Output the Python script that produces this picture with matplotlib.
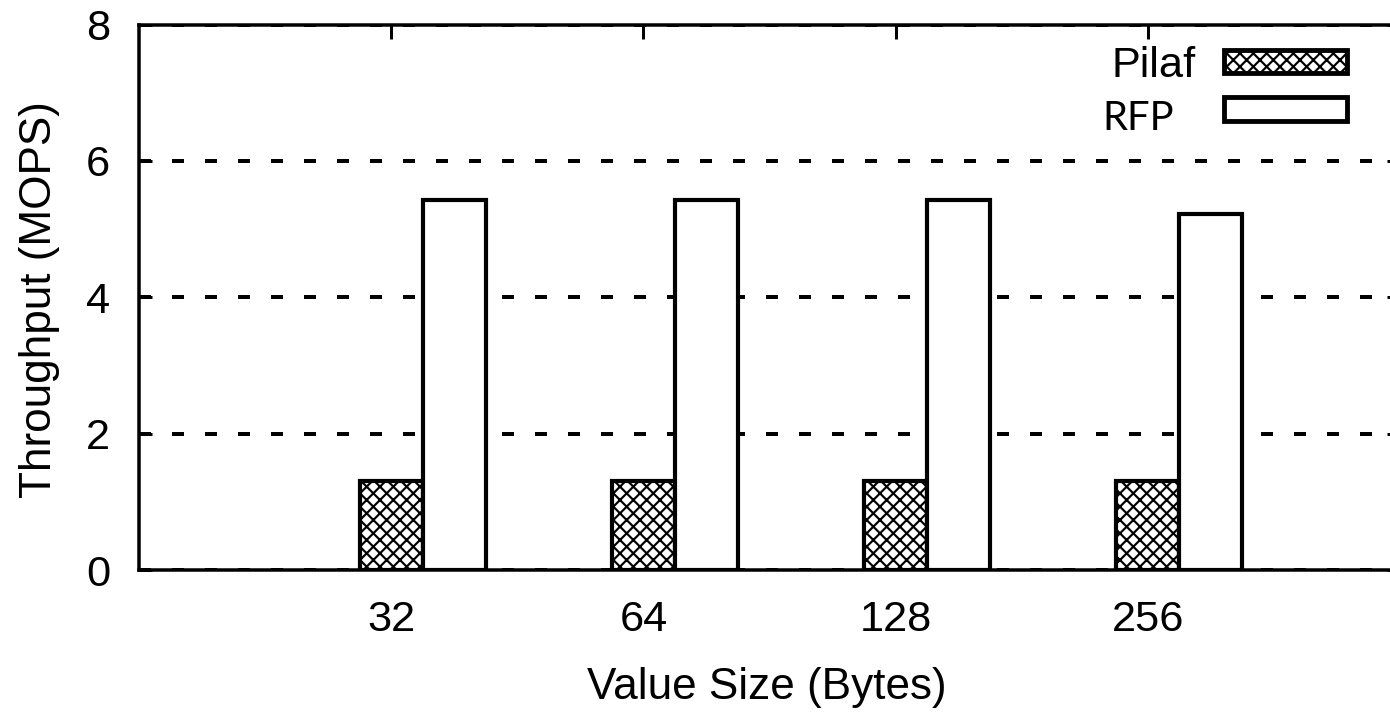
import matplotlib
matplotlib.use("Agg")
import matplotlib.pyplot as plt
from matplotlib.patches import Rectangle
import numpy as np

# Throughput per value size
value_sizes = ["32", "64", "128", "256"]
pilaf = [1.3, 1.3, 1.3, 1.3]
rfp = [5.42, 5.42, 5.42, 5.22]
series_names = ["Pilaf", "RFP"]
y_ticks = [0, 2, 4, 6, 8]

DPI = 120
W, H = 1390, 713
plt.rcParams["font.family"] = ["Liberation Sans", "DejaVu Sans"]
plt.rcParams["hatch.linewidth"] = 1.3
plt.rcParams["hatch.color"] = "black"

fig = plt.figure(figsize=(W / DPI, H / DPI), dpi=DPI)
# axes box in pixels: left 139, right 1400 (right side runs past the canvas), top 24.5, bottom 570
ax = fig.add_axes([139 / W, (H - 570) / H, 1261 / W, 545.5 / H])

x = np.arange(1, len(value_sizes) + 1)
bw = 0.25
edge_lw = 2.5
hatch_pat = "xxx"

ax.bar(x, pilaf, width=bw, facecolor="white", edgecolor="black",
       linewidth=edge_lw, hatch=hatch_pat, zorder=3)
ax.bar(x + bw, rfp, width=bw, facecolor="white", edgecolor="black",
       linewidth=edge_lw, zorder=3)

ax.set_xlim(0, 5)
ax.set_ylim(0, 8)
ax.set_yticks(y_ticks)
ax.set_xticks(x)
ax.set_xticklabels(value_sizes)

ax.set_axisbelow(True)
ax.yaxis.grid(True, color="black", linewidth=2.4, linestyle=(0, (3, 5.25)))
ax.xaxis.grid(False)

for s in ax.spines.values():
    s.set_linewidth(2.1)
    s.set_color("black")

ax.tick_params(axis="y", direction="in", length=8, width=1.8, labelsize=26,
               pad=17.4, left=True, right=True)
ax.tick_params(axis="x", direction="in", length=8.4, width=1.8, labelsize=26,
               pad=18, top=True, bottom=True)

ax.set_xlabel("Value Size (Bytes)", fontsize=26.5)
ax.set_ylabel("Throughput (MOPS)", fontsize=26.5)
ax.xaxis.set_label_coords(0.4976, -0.178)
ax.yaxis.set_label_coords(-0.0626, 0.495)


def fx(px):
    return px / W


def fy(py):
    return 1 - py / H


# legend, drawn in figure pixels
sw_x0, sw_x1 = 1224, 1347
leg_rows = [(50, 73, hatch_pat), (97, 121, None)]
for (y0, y1, hatch) in leg_rows:
    r = Rectangle((fx(sw_x0), fy(y1)), fx(sw_x1) - fx(sw_x0), fy(y0) - fy(y1),
                  transform=fig.transFigure, facecolor="white", edgecolor="black",
                  linewidth=2.9, hatch=hatch)
    fig.add_artist(r)

fig.text(fx(1196), fy(77), series_names[0], ha="right", va="baseline",
         fontsize=26)
fig.text(fx(1102), fy(130), series_names[1], ha="left", va="baseline",
         fontsize=24, family=["Lato", "DejaVu Sans"])

fig.savefig("out.png", dpi=DPI)
